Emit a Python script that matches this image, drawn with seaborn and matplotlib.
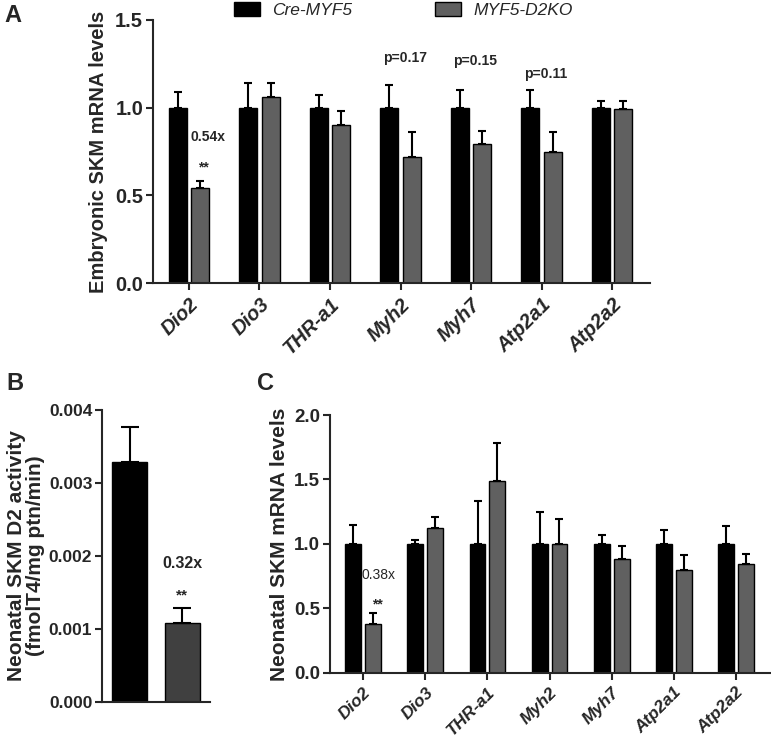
import pandas as pd
import numpy as np
import matplotlib
matplotlib.use("Agg")
import matplotlib.pyplot as plt
import seaborn as sns

# data
genes = ["Dio2", "Dio3", "THR-a1", "Myh2", "Myh7", "Atp2a1", "Atp2a2"]
groups = ["Cre-MYF5", "MYF5-D2KO"]

emb_cre = [1.0, 1.0, 1.0, 1.0, 1.0, 1.0, 1.0]
emb_cre_err = [0.09, 0.14, 0.07, 0.13, 0.10, 0.10, 0.04]
emb_ko = [0.54, 1.06, 0.90, 0.72, 0.79, 0.745, 0.99]
emb_ko_err = [0.04, 0.08, 0.08, 0.14, 0.075, 0.115, 0.05]

d2_activity = [0.00329, 0.00108]
d2_err = [0.00048, 0.0002]

neo_cre = [1.0, 1.0, 1.0, 1.0, 1.0, 1.0, 1.0]
neo_cre_err = [0.15, 0.03, 0.33, 0.25, 0.07, 0.11, 0.135]
neo_ko = [0.38, 1.12, 1.49, 1.0, 0.885, 0.80, 0.84]
neo_ko_err = [0.08, 0.09, 0.29, 0.19, 0.095, 0.115, 0.08]

sns.set_style("ticks")
plt.rcParams['font.family'] = ['Liberation Sans', 'DejaVu Sans']
plt.rcParams['axes.linewidth'] = 1.5
plt.rcParams['xtick.major.width'] = 1.5
plt.rcParams['ytick.major.width'] = 1.5
plt.rcParams['xtick.major.size'] = 5
plt.rcParams['ytick.major.size'] = 5
plt.rcParams['ytick.major.pad'] = 2

fig = plt.figure(figsize=(7.71, 7.43), dpi=100)
axA = fig.add_axes([0.1984, 0.6191, 0.645, 0.354])
axB = fig.add_axes([0.1323, 0.0556, 0.140, 0.3926])
axC = fig.add_axes([0.428, 0.0946, 0.5707, 0.3468])

pal = ["black", "#606060"]


def grouped(ax, cre, cre_err, ko, ko_err):
    df = pd.DataFrame({
        "gene": genes * 2,
        "group": [groups[0]] * len(genes) + [groups[1]] * len(genes),
        "value": cre + ko,
    })
    sns.barplot(data=df, x="gene", y="value", hue="group", palette=pal,
                width=0.64, gap=0.2, edgecolor="black", linewidth=1.0,
                errorbar=None, ax=ax)
    for cont, errs in zip(ax.containers, [cre_err, ko_err]):
        for p, e in zip(cont.patches, errs):
            xc = p.get_x() + p.get_width() / 2
            ax.errorbar(xc, p.get_height(), yerr=[[0], [e]], fmt="none",
                        ecolor="black", elinewidth=1.5, capsize=3, capthick=1.5)


# Panel A
grouped(axA, emb_cre, emb_cre_err, emb_ko, emb_ko_err)
sns.despine(ax=axA)
axA.set_xlabel("")
axA.set_ylim(0, 1.5)
axA.set_yticks([0.0, 0.5, 1.0, 1.5])
axA.set_yticklabels(["0.0", "0.5", "1.0", "1.5"], fontsize=14.5, fontweight="bold")
axA.set_xlim(-0.51, 6.54)
axA.set_xticks(range(len(genes)))
axA.set_xticklabels(genes, rotation=45, ha="right", rotation_mode="anchor",
                    fontsize=14.5, fontweight="bold", fontstyle="italic")
axA.set_ylabel("Embryonic SKM mRNA levels", fontsize=14.5, fontweight="bold", labelpad=5)
handles, labels = axA.get_legend_handles_labels()
axA.legend(handles, labels, ncol=2, loc="center", bbox_to_anchor=(0.523, 0.9865),
           bbox_transform=fig.transFigure, frameon=False,
           prop={"style": "italic", "size": 12.5}, handlelength=1.5,
           handleheight=0.85, handletextpad=0.7, columnspacing=4.8)
axA.text(0.27, 0.83, "0.54x", ha="center", va="center", fontsize=10, fontweight="bold")
axA.text(0.2, 0.66, "**", ha="center", va="center", fontsize=10, fontweight="bold")
axA.text(3.06, 1.284, "p=0.17", ha="center", va="center", fontsize=10, fontweight="bold")
axA.text(4.06, 1.266, "p=0.15", ha="center", va="center", fontsize=10, fontweight="bold")
axA.text(5.06, 1.19, "p=0.11", ha="center", va="center", fontsize=10, fontweight="bold")

# Panel B
sns.barplot(x=groups, y=d2_activity, hue=groups, palette=["black", "#404040"],
            width=0.66, edgecolor="black", linewidth=1.0, legend=False, ax=axB)
for p, e in zip([c.patches[0] for c in axB.containers], d2_err):
    xc = p.get_x() + p.get_width() / 2
    axB.errorbar(xc, p.get_height(), yerr=[[0], [e]], fmt="none",
                 ecolor="black", elinewidth=1.5, capsize=6.5, capthick=1.5)
sns.despine(ax=axB)
axB.set_xlim(-0.52, 1.52)
axB.set_ylim(0, 0.004)
axB.set_xticks([])
axB.set_yticks([0, 0.001, 0.002, 0.003, 0.004])
axB.set_yticklabels(["0.000", "0.001", "0.002", "0.003", "0.004"],
                    fontsize=12.5, fontweight="bold")
axB.set_ylabel("Neonatal SKM D2 activity\n(fmolT4/mg ptn/min)", fontsize=15,
               fontweight="bold", labelpad=3, linespacing=0.95)
axB.text(1, 0.0019, "0.32x", ha="center", va="center", fontsize=11.5, fontweight="bold")
axB.text(1, 0.00145, "**", ha="center", va="center", fontsize=11, fontweight="bold")

# Panel C
grouped(axC, neo_cre, neo_cre_err, neo_ko, neo_ko_err)
sns.despine(ax=axC)
axC.set_xlabel("")
axC.get_legend().remove()
axC.set_ylim(0, 2.0)
axC.set_yticks([0.0, 0.5, 1.0, 1.5, 2.0])
axC.set_yticklabels(["0.0", "0.5", "1.0", "1.5", "2.0"], fontsize=13.5, fontweight="bold")
axC.set_xlim(-0.536, 6.55)
axC.set_xticks(range(len(genes)))
axC.set_xticklabels(genes, rotation=45, ha="right", rotation_mode="anchor",
                    fontsize=12.5, fontweight="bold", fontstyle="italic")
axC.set_ylabel("Neonatal SKM mRNA levels", fontsize=15, fontweight="bold", labelpad=4)
axC.text(0.25, 0.76, "0.38x", ha="center", va="center", fontsize=10)
axC.text(0.22, 0.53, "**", ha="center", va="center", fontsize=10, fontweight="bold")

# panel letters
fig.text(0.006, 0.995, "A", fontsize=17, fontweight="bold", va="top")
fig.text(0.008, 0.50, "B", fontsize=17, fontweight="bold", va="top")
fig.text(0.333, 0.50, "C", fontsize=17, fontweight="bold", va="top")

fig.savefig("out.png", dpi=100)
